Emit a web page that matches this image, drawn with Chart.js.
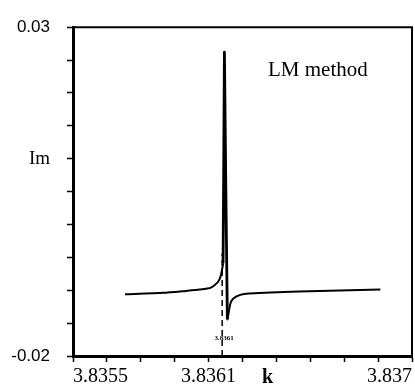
<!DOCTYPE html>
<html>
<head>
<meta charset="utf-8">
<script src="https://cdn.jsdelivr.net/npm/chart.js@4"></script>
<style>
    html, body { margin: 0; padding: 0; background: #fff; }
    #wrap { width: 415px; height: 392px; }
</style>
</head>
<body>
<div id="wrap"><canvas id="imChart"></canvas></div>
<script>
// wave number k and Im part
const kValues = [3.83573, 3.8359, 3.836, 3.83606, 3.83611, 3.83614, 3.83615, 3.836155, 3.836164,
    3.83617, 3.836183, 3.836195, 3.836208, 3.83624, 3.83628, 3.8365, 3.83686]
const imValues = [-0.0106, -0.0104, -0.0101, -0.0099, -0.0096, -0.0088, -0.0082, -0.0076, -0.0059,
    0.0262, -0.0144, -0.0122, -0.0113, -0.0107, -0.0105, -0.0102, -0.0099]

// dashed marker at the resonance
const resonanceK = [3.83616, 3.83616]
const resonanceIm = [-0.02, -0.0044]

const xTicks = [3.8355, 3.83565, 3.8358, 3.83595, 3.8361, 3.83625, 3.8364, 3.83655, 3.8367, 3.83685, 3.837]
const xTickLabels = ['3.8355', '', '', '', '3.8361', '', '', '', '', '', '3.837']
const yTicks = [-0.02, -0.015, -0.01, -0.005, 0, 0.005, 0.01, 0.015, 0.02, 0.025, 0.03]
const yTickLabels = ['-0.02', '', '', '', '', '', 'Im', '', '', '', '0.03']

const serif = '"Liberation Serif", "Times New Roman", serif'
const sans = '"Liberation Sans", Arial, sans-serif'

const toPoints = (xs, ys) => xs.map((x, i) => ({x, y: ys[i]}))

const frameAndText = {
    id: 'frameAndText',
    afterDraw(chart) {
        const {ctx, chartArea: a, scales} = chart
        ctx.save()
        ctx.strokeStyle = '#000'
        ctx.lineWidth = 2
        ctx.beginPath()
        ctx.moveTo(a.left, a.top)
        ctx.lineTo(a.right, a.top)
        ctx.lineTo(a.right, a.bottom)
        ctx.stroke()

        ctx.fillStyle = '#000'
        ctx.textBaseline = 'middle'
        ctx.font = '21px ' + serif
        ctx.fillText('LM method', 268, 70)
        ctx.font = 'bold 20px ' + serif
        ctx.fillText('k', 262, 378)
        ctx.font = 'bold 7px ' + serif
        ctx.textAlign = 'center'
        ctx.fillText('3.8361', scales.x.getPixelForValue(resonanceK[0]) + 2, 338)
        ctx.restore()
    }
}

const ctx = document.getElementById('imChart').getContext('2d')
const chart = new Chart(ctx, {
    type: 'line',
    data: {
        datasets: [{
            data: toPoints(kValues, imValues),
            borderColor: '#000',
            borderWidth: 2,
            pointRadius: 0,
            tension: 0.2,
            segment: {
                // the spike is drawn heavier in the figure
                borderWidth: (s) => (s.p0DataIndex >= 8 && s.p0DataIndex <= 9) ? 2.8 : 2,
            },
        },
            {
                data: toPoints(resonanceK, resonanceIm),
                borderColor: '#000',
                borderWidth: 1.5,
                borderDash: [6, 4],
                pointRadius: 0,
            }
        ],
    },
    options: {
        responsive: true,
        maintainAspectRatio: false,
        animation: false,
        layout: {padding: {top: 16, right: 3, left: 0, bottom: 0}},
        plugins: {legend: {display: false}, tooltip: {enabled: false}},
        scales: {
            x: {
                type: 'linear',
                min: 3.8355,
                max: 3.837,
                afterBuildTicks: (scale) => {
                    scale.ticks = xTicks.map(value => ({value}))
                },
                afterFit: (scale) => {
                    scale.height = 36
                },
                border: {color: '#000', width: 3},
                grid: {drawOnChartArea: false, color: '#000', tickLength: 6, tickWidth: 1.5},
                ticks: {
                    autoSkip: false,
                    maxRotation: 0,
                    align: 'inner',
                    padding: 3,
                    color: '#000',
                    font: {family: serif, size: 20},
                    callback: (value, index) => xTickLabels[index],
                },
            },
            y: {
                min: -0.02,
                max: 0.03,
                afterBuildTicks: (scale) => {
                    scale.ticks = yTicks.map(value => ({value}))
                },
                afterFit: (scale) => {
                    scale.width = 73
                },
                border: {color: '#000', width: 3},
                grid: {drawOnChartArea: false, color: '#000', tickLength: 6, tickWidth: 1.5},
                ticks: {
                    autoSkip: false,
                    padding: 17,
                    color: '#000',
                    font: (c) => c.index === 6
                        ? {family: serif, size: 19}
                        : {family: sans, size: 17},
                    callback: (value, index) => yTickLabels[index],
                },
            },
        },
    },
    plugins: [frameAndText],
});
</script>
</body>
</html>
